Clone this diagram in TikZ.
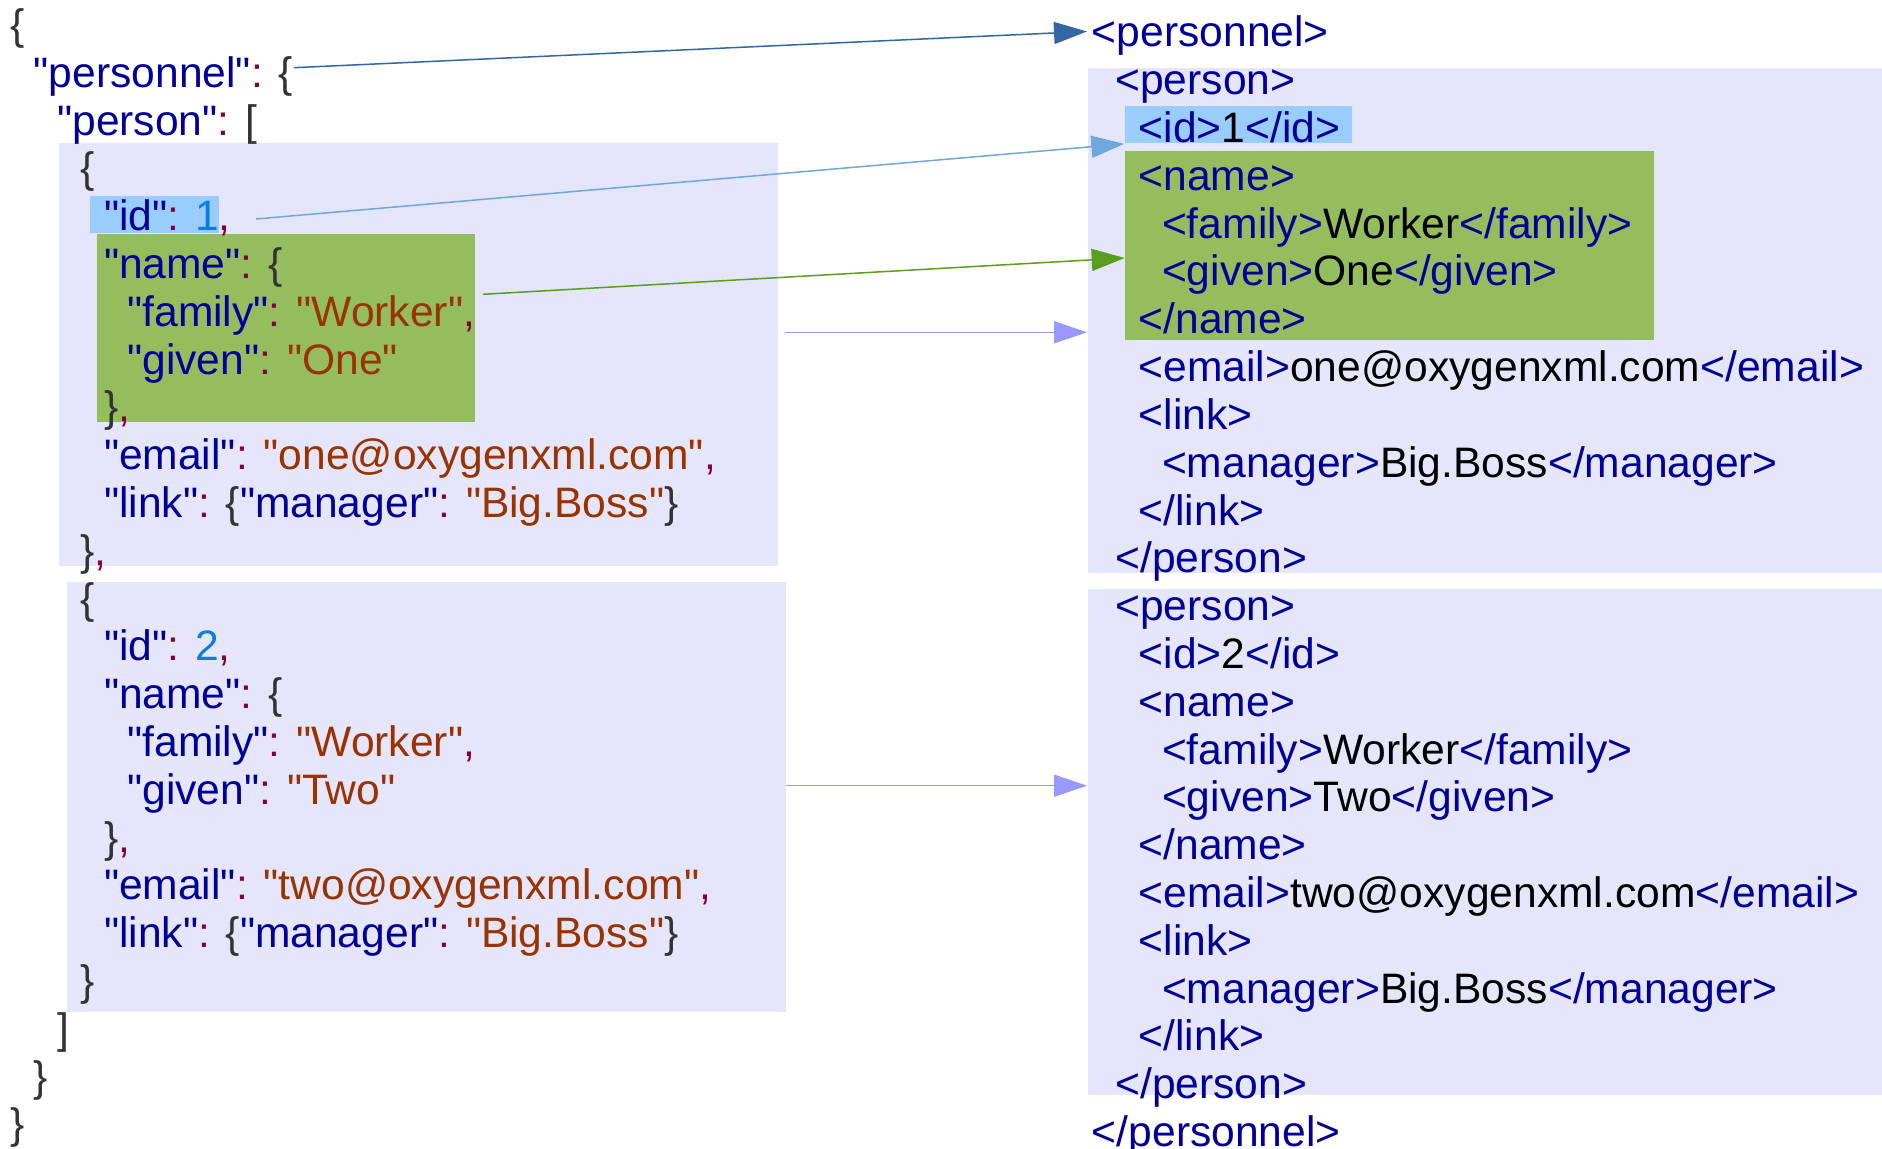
\documentclass[tikz,border=0pt]{standalone}
\usepackage{fontspec}
\setmainfont{Liberation Sans}[Ligatures=TeXOff]
\usetikzlibrary{arrows.meta,fit}

\definecolor{keyc}{HTML}{000099}
\definecolor{strc}{HTML}{993300}
\definecolor{numc}{HTML}{0A7DE0}
\definecolor{punc}{HTML}{800040}
\definecolor{bracec}{HTML}{333333}
\definecolor{lav}{HTML}{E5E5FC}
\definecolor{idhl}{HTML}{99CCFF}
\definecolor{namehl}{HTML}{94BD5E}
\definecolor{arrA}{HTML}{3465A4}
\definecolor{arrB}{HTML}{6FA8DC}
\definecolor{arrC}{HTML}{5A9E1E}
\definecolor{arrD}{HTML}{9999FF}

\newcommand\jk[1]{\textcolor{keyc}{"#1"}}
\newcommand\js[1]{\textcolor{strc}{"#1"}}
\newcommand\jn[1]{\textcolor{numc}{#1}}
\newcommand\jp[1]{\textcolor{punc}{#1}}
\newcommand\jb[1]{\textcolor{bracec}{#1}}
\newcommand\xt[1]{\textcolor{keyc}{<#1>}}

\tikzset{
  jline/.style={anchor=base west, inner sep=0pt, font=\fontsize{21.3pt}{24pt}\selectfont},
  panel/.style={fill=lav, inner sep=0pt},
  maparrow/.style={-{Triangle[length=16.5pt,width=11pt]}, line width=0.75pt}
}

\begin{document}
\begin{tikzpicture}[x=0.5pt,y=-0.5pt]
\useasboundingbox (0,0) rectangle (1882,1149);

% background blocks
\node[panel, fit={(58.8,143) (777.8,566)}] (jbox1) {};
\node[panel, fit={(67,582) (785.7,1012)}] (jbox2) {};
\node[panel, fill=idhl, fit={(90,196.5) (218.5,233.5)}] (jid) {};
\node[panel, fill=namehl, fit={(97,234) (475,422.5)}] (jname) {};
\node[panel, fit={(1087.5,68.4) (1882,573)}] (xbox1) {};
\node[panel, fit={(1087.5,589) (1882,1095)}] (xbox2) {};
\node[panel, fill=idhl, fit={(1124.7,105.6) (1351.5,143.5)}] (xid) {};
\node[panel, fill=namehl, fit={(1124.7,151.2) (1654,339.7)}] (xname) {};

% json side
\foreach \lvl/\txt [count=\i] in {
  0/{\jb{\{}},
  1/{\jk{personnel}\jp{:} \jb{\{}},
  2/{\jk{person}\jp{:} \jb{[}},
  3/{\jb{\{}},
  4/{\jk{id}\jp{:} \jn{1}\jp{,}},
  4/{\jk{name}\jp{:} \jb{\{}},
  5/{\jk{family}\jp{:} \js{Worker}\jp{,}},
  5/{\jk{given}\jp{:} \js{One}},
  4/{\jb{\}}\jp{,}},
  4/{\jk{email}\jp{:} \js{one@oxygenxml.com}\jp{,}},
  4/{\jk{link}\jp{:} \jb{\{}\jk{manager}\jp{:} \js{Big.Boss}\jb{\}}},
  3/{\jb{\}}\jp{,}},
  3/{\jb{\{}},
  4/{\jk{id}\jp{:} \jn{2}\jp{,}},
  4/{\jk{name}\jp{:} \jb{\{}},
  5/{\jk{family}\jp{:} \js{Worker}\jp{,}},
  5/{\jk{given}\jp{:} \js{Two}},
  4/{\jb{\}}\jp{,}},
  4/{\jk{email}\jp{:} \js{two@oxygenxml.com}\jp{,}},
  4/{\jk{link}\jp{:} \jb{\{}\jk{manager}\jp{:} \js{Big.Boss}\jb{\}}},
  3/{\jb{\}}},
  2/{\jb{]}},
  1/{\jb{\}}},
  0/{\jb{\}}}}
  \node[jline] (j\i) at (10+23.4*\lvl, 39.5+47.8*\i-47.8) {\txt};

% xml side
\foreach \lvl/\txt [count=\i] in {
  0/{\xt{personnel}},
  1/{\xt{person}},
  2/{\xt{id}1\xt{/id}},
  2/{\xt{name}},
  3/{\xt{family}Worker\xt{/family}},
  3/{\xt{given}One\xt{/given}},
  2/{\xt{/name}},
  2/{\xt{email}one@oxygenxml.com\xt{/email}},
  2/{\xt{link}},
  3/{\xt{manager}Big.Boss\xt{/manager}},
  2/{\xt{/link}},
  1/{\xt{/person}},
  1/{\xt{person}},
  2/{\xt{id}2\xt{/id}},
  2/{\xt{name}},
  3/{\xt{family}Worker\xt{/family}},
  3/{\xt{given}Two\xt{/given}},
  2/{\xt{/name}},
  2/{\xt{email}two@oxygenxml.com\xt{/email}},
  2/{\xt{link}},
  3/{\xt{manager}Big.Boss\xt{/manager}},
  2/{\xt{/link}},
  1/{\xt{/person}},
  0/{\xt{/personnel}}}
  \node[jline] (x\i) at (1091.5+23.4*\lvl, 47+47.8*\i-47.8) {\txt};

% mapping arrows
\coordinate (fromPersonnel) at (294,67.7);
\coordinate (toPersonnel) at (1087,31.5);
\coordinate (fromId) at (256,219);
\coordinate (fromName) at (483,294.3);
\coordinate (toName) at (1124.7,258);
\coordinate (fromPerson1) at (785,332.3);
\coordinate (fromPerson2) at (785.7,785.7);

\draw[maparrow, arrA] (fromPersonnel) -- (toPersonnel);
\draw[maparrow, arrB] (fromId) -- (xid.south west);
\draw[maparrow, arrC] (fromName) -- (toName);
\draw[maparrow, arrD] (fromPerson1) -- (fromPerson1 -| xbox1.west);
\draw[maparrow, arrD] (fromPerson2) -- (fromPerson2 -| xbox2.west);
\end{tikzpicture}
\end{document}
